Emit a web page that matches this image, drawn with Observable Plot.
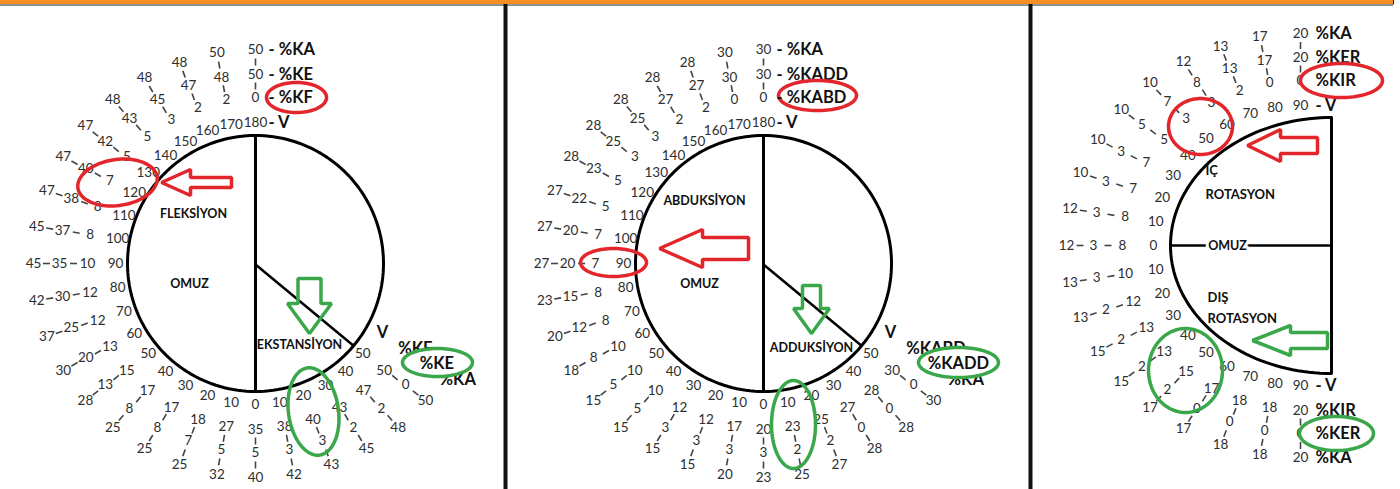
<!DOCTYPE html>
<html><head><meta charset="utf-8">
<script src="https://cdn.jsdelivr.net/npm/d3@7"></script>
<script src="https://cdn.jsdelivr.net/npm/@observablehq/plot@0.6"></script>
<style>html,body{margin:0;padding:0;background:#fff;overflow:hidden}</style>
</head><body><div id="chart"></div>
<script>
// ---------------- DATA ----------------
// Panel 1 : OMUZ fleksiyon / ekstansiyon  (inner %KF, middle %KE, outer %KA)
const flexAngles = [0,10,20,30,40,50,60,70,80,90,100,110,120,130,140,150,160,170,180];
const flexKF = [35,27,18,17,17,15,13,12,12,10,8,8,7,5,5,3,2,2,0];
const flexKE = [5,5,7,8,8,13,20,25,30,35,37,38,40,42,43,45,47,48,50];
const flexKA = [40,32,25,25,25,28,30,37,42,45,45,47,47,47,48,48,48,50,50];
const extAngles = [10,20,30,40,50];
const extKF = [38,40,43,47,50];
const extKE = [3,3,2,2,0];
const extKA = [42,43,45,48,50];
const p1Names = ["V","%KF","%KE","%KA"];

// Panel 2 : abduksiyon / adduksiyon (inner %KABD, middle %KADD, outer %KA)
const abdAngles = [0,10,20,30,40,50,60,70,80,90,100,110,120,130,140,150,160,170,180];
const abdKABD = [20,17,12,12,10,10,10,8,8,7,7,5,5,3,3,2,2,0,0];
const abdKADD = [3,3,3,3,5,5,8,12,15,20,20,22,23,25,25,27,27,30,30];
const abdKA   = [23,20,15,15,15,15,18,20,23,27,27,27,28,28,28,28,28,30,30];
const addAngles = [10,20,30,40,50];
const addKABD = [23,25,27,28,30];
const addKADD = [2,2,0,0,0];
const addKA   = [25,27,28,28,30];
const p2Names = ["V","%KABD","%KADD","%KA"];

// Panel 3 : iç / dış rotasyon (inner %KIR, middle %KER, outer %KA)
const irAngles = [0,10,20,30,40,50,60,70,80,90];
const irKIR = [8,8,7,7,5,3,3,2,0,0];
const irKER = [3,3,3,3,5,7,8,13,17,20];
const irKA  = [12,12,10,10,10,10,12,13,17,20];
const erAngles = [10,20,30,40,50,60,70,80,90];
const erKIR = [10,12,13,13,15,17,18,18,20];
const erKER = [3,2,2,2,2,0,0,0,0];
const erKA  = [13,13,15,15,17,17,18,18,20];
const p3Names = ["V","%KIR","%KER","%KA"];

const regionLabels1 = ["FLEKSİYON","OMUZ","EKSTANSİYON"];
const regionLabels2 = ["ABDUKSİYON","OMUZ","ADDUKSİYON"];
const regionLabels3 = ["İÇ","ROTASYON","OMUZ","DIŞ","ROTASYON"];

// ---------------- LAYOUT ----------------
const W = 1400, H = 489;
const RED = "#e3262b", GREEN = "#3aa84a", INK = "#2e2e2e";
const ringsRound = [[140,141],[168,166],[196,189],[222,214]];
const P1 = {cx:255, cy:263, r:128, rings:ringsRound};
const P2 = {cx:763, cy:263, r:128, rings:ringsRound};
const P3 = {cx:1300, cy:245, ex:1331, erx:161, ery:128, rings:[[147,140],[178,165],[207,188],[234,212]]};
const rad = d => d*Math.PI/180;
const dirs = {
  left:  a => [-Math.sin(rad(a)), Math.cos(rad(a))],
  right: a => [ Math.sin(rad(a)), Math.cos(rad(a))],
  up:    a => [-Math.cos(rad(a)), -Math.sin(rad(a))],
  down:  a => [-Math.cos(rad(a)),  Math.sin(rad(a))]
};
function pos(P, side, a, k){
  const [ux,uy] = dirs[side](a);
  const [rx,ry] = P.rings[k];
  return [P.cx + ux*rx, P.cy + uy*ry];
}

const sides = [
  {P:P1, side:"left",  angles:flexAngles, vals:[flexKF,flexKE,flexKA]},
  {P:P1, side:"right", angles:extAngles,  vals:[extKF,extKE,extKA]},
  {P:P2, side:"left",  angles:abdAngles,  vals:[abdKABD,abdKADD,abdKA]},
  {P:P2, side:"right", angles:addAngles,  vals:[addKABD,addKADD,addKA]},
  {P:P3, side:"up",    angles:irAngles,   vals:[irKIR,irKER,irKA]},
  {P:P3, side:"down",  angles:erAngles,   vals:[erKIR,erKER,erKA]}
];

const numbers = [], connectors = [];
for (const s of sides) {
  s.angles.forEach((a,i) => {
    const texts = [String(a), ...s.vals.map(v => String(v[i]))];
    texts.forEach((t,k) => { const [x,y] = pos(s.P,s.side,a,k); numbers.push({x,y,t}); });
    for (let k=1;k<3;k++){
      const [ux,uy] = dirs[s.side](a);
      const rx = (s.P.rings[k][0]+s.P.rings[k+1][0])/2, ry = (s.P.rings[k][1]+s.P.rings[k+1][1])/2;
      const mx = s.P.cx+ux*rx, my = s.P.cy+uy*ry;
      const n = Math.hypot(ux*rx, uy*ry), dx = ux*rx/n*3.5, dy = uy*ry/n*3.5;
      connectors.push({x1:mx-dx,y1:my-dy,x2:mx+dx,y2:my+dy});
    }
  });
}

// legends (circled: ring index that gets a highlight ellipse)
const legends = [];
function topLegend(P, side, a, names, dash, dx, circled){
  names.forEach((nm,k)=>{ const [x,y]=pos(P,side,a,k); legends.push({x:x+dx,y,t:(dash||k===0?"- ":"")+nm,c:k===circled}); });
}
function sideLegend(P, side, a, names, circled){
  names.forEach((nm,k)=>{ const [x,y]=pos(P,side,a,k); legends.push({x:x+14,y:y-21,t:nm,c:k===circled}); });
}
topLegend(P1,"left",180,p1Names,true,13,1);
sideLegend(P1,"right",50,p1Names,2);
topLegend(P2,"left",180,p2Names,true,13,1);
sideLegend(P2,"right",50,p2Names,2);
topLegend(P3,"up",90,p3Names,false,15,1);
topLegend(P3,"down",90,p3Names,false,15,2);

// outlines
const outlines = [];
function ring(id, cx, cy, rx, ry, a0, a1){
  for (let a=a0;a<=a1;a+=2) outlines.push({id, x:cx+rx*Math.cos(rad(a)), y:cy+ry*Math.sin(rad(a))});
}
ring("c1",P1.cx,P1.cy,P1.r,P1.r,0,360);
ring("c2",P2.cx,P2.cy,P2.r,P2.r,0,360);
ring("c3",P3.ex,P3.cy,P3.erx,P3.ery,90,270);

const edge = (P,side,a,r)=>{const [ux,uy]=dirs[side](a); return [P.cx+ux*r, P.cy+uy*r];};
const lines = [];
for (const P of [P1,P2]) {
  const t = edge(P,"left",180,P.r), b = edge(P,"left",0,P.r), d = edge(P,"right",50,P.r);
  lines.push({x1:t[0],y1:t[1],x2:b[0],y2:b[1],w:3});
  lines.push({x1:P.cx,y1:P.cy+1,x2:d[0],y2:d[1],w:2.5});
}
lines.push({x1:P3.ex,y1:P3.cy-P3.ery,x2:P3.ex,y2:P3.cy+P3.ery,w:3});
lines.push({x1:P3.ex-P3.erx,y1:P3.cy,x2:P3.ex,y2:P3.cy,w:2.5});

// highlight ellipses: [cx, cy, rx, ry, tilt, colour, whiteFill]
const hl = [
  [296,97,30,15,0,RED,true],[117,182,40,23,-8,RED,false],[437,362,35,14,0,GREEN,true],[313,411,25,44,-8,GREEN,false],
  [817,95,39,15,0,RED,true],[613,262,33,14,0,RED,false],[958,362,40,15,0,GREEN,true],[793,424,22,44,0,GREEN,false],
  [1341,80,41,17,0,RED,true],[1200,126,32,28,0,RED,false],[1336,433,37,17,0,GREEN,true],[1185,370,37,42,0,GREEN,false]
];
const ellipsePts = [];
hl.forEach(([cx,cy,rx,ry,tilt,c,f],i)=>{
  const ct=Math.cos(rad(tilt)), st=Math.sin(rad(tilt));
  for(let a=0;a<360;a+=4){const ex=rx*Math.cos(rad(a)), ey=ry*Math.sin(rad(a));
    ellipsePts.push({id:"e"+i,c,f,x:cx+ex*ct-ey*st,y:cy+ex*st+ey*ct});}
});

// arrows: tip, direction, head length, head half-width, body half-width, total length
const arrows = [
  [[161,182],"left",29,13,5,70,RED],
  [[309,333],"down",30,22,11.5,55,GREEN],
  [[659,248],"left",43,19,11,89,RED],
  [[811,333],"down",25,18,9,48,GREEN],
  [[1247,145],"left",33,16,8,70,RED],
  [[1252,340],"left",38,15,8,75,GREEN]
];
const arrowPts = [];
arrows.forEach(([[tx,ty],d,hL,hW,bW,L,c],i)=>{
  const loc = [[0,0],[hL,-hW],[hL,-bW],[L,-bW],[L,bW],[hL,bW],[hL,hW]];
  loc.forEach(([u,v])=>{
    const p = d==="left" ? [tx+u, ty+v] : [tx+v, ty-u];
    arrowPts.push({id:"a"+i,c,x:p[0],y:p[1]});
  });
});

const regionsMid = [
  {x:193,y:213,t:regionLabels1[0]},{x:189,y:283,t:regionLabels1[1]},{x:299,y:344,t:regionLabels1[2]},
  {x:704,y:200,t:regionLabels2[0]},{x:699,y:283,t:regionLabels2[1]},{x:811,y:347,t:regionLabels2[2]}
];
const regionsStart = [
  {x:1205,y:170,t:regionLabels3[0]},{x:1205,y:194,t:regionLabels3[1]},
  {x:1207,y:297,t:regionLabels3[3]},{x:1207,y:318,t:regionLabels3[4]}
];

const chart = Plot.plot({
  width: W, height: H, margin: 0,
  x: {domain:[0,W], range:[0,W], axis:null},
  y: {domain:[0,H], range:[0,H], axis:null},
  style: {fontFamily:"Lato, 'Open Sans', sans-serif", background:"#fff"},
  marks: [
    Plot.rect([0],{x1:0,x2:1393,y1:0,y2:4,fill:"#f39021"}),
    Plot.ruleY([4.5],{x1:0,x2:1393,stroke:"#222",strokeWidth:1}),
    Plot.ruleX([1393],{y1:0,y2:4.5,stroke:"#222",strokeWidth:1}),
    Plot.ruleX([505,1030],{y1:4,y2:H,stroke:"#111",strokeWidth:4}),
    Plot.line(outlines,{x:"x",y:"y",z:"id",stroke:"#000",strokeWidth:3}),
    Plot.link(lines,{x1:"x1",y1:"y1",x2:"x2",y2:"y2",stroke:"#000",strokeWidth:"w"}),
    Plot.text([{x:1227,y:245,t:regionLabels3[2]}],{x:"x",y:"y",text:"t",fontSize:12.5,fontWeight:"bold",fill:"#111",stroke:"#fff",strokeWidth:6}),
    Plot.text(regionsMid,{x:"x",y:"y",text:"t",textAnchor:"middle",fontSize:12.5,fontWeight:"bold",fill:"#111"}),
    Plot.text(regionsStart,{x:"x",y:"y",text:"t",textAnchor:"start",fontSize:13,fontWeight:"bold",fill:"#111"}),
    Plot.link(connectors,{x1:"x1",y1:"y1",x2:"x2",y2:"y2",stroke:"#444",strokeWidth:1.6}),
    Plot.text(numbers,{x:"x",y:"y",text:"t",fontSize:13.5,fill:INK}),
    Plot.text(legends,{x:"x",y:"y",text:"t",textAnchor:"start",fontSize:16.5,fontWeight:"bold",fill:"#111"}),
    Plot.line(arrowPts,{x:"x",y:"y",z:"id",stroke:"c",curve:"linear-closed",strokeWidth:3.5,strokeLinejoin:"miter"}),
    Plot.line(ellipsePts.filter(d=>d.f),{x:"x",y:"y",z:"id",stroke:"c",fill:"#fff",curve:"linear-closed",strokeWidth:3.5}),
    Plot.line(ellipsePts.filter(d=>!d.f),{x:"x",y:"y",z:"id",stroke:"c",curve:"linear-closed",strokeWidth:3.5}),
    Plot.text(legends.filter(d=>d.c),{x:"x",y:"y",text:"t",textAnchor:"start",fontSize:16.5,fontWeight:"bold",fill:"#111"})
  ]
});
document.getElementById("chart").appendChild(chart);
</script></body></html>
